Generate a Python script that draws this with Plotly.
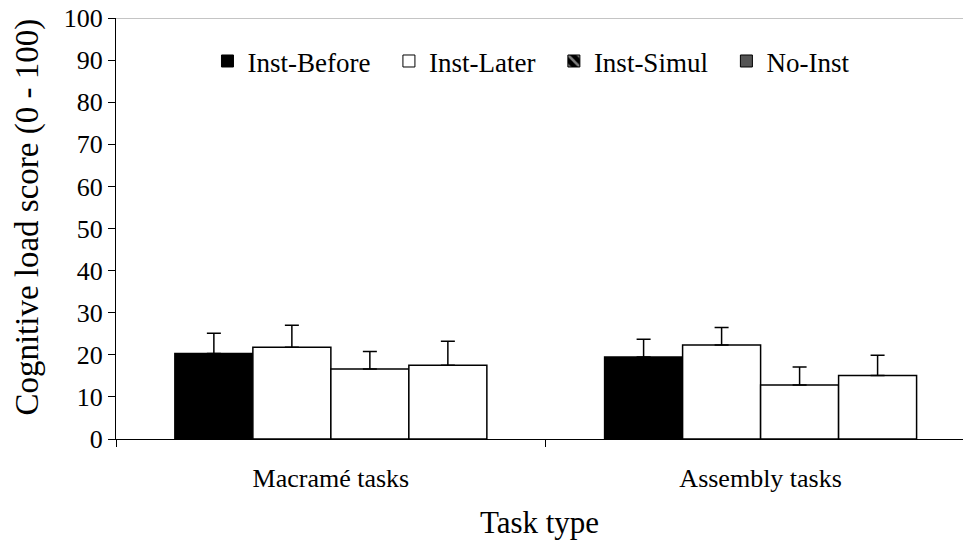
import plotly.graph_objects as go

# Task categories and group labels
tasks = ["Macramé tasks", "Assembly tasks"]
groups = ["Inst-Before", "Inst-Later", "Inst-Simul", "No-Inst"]

# Mean cognitive load scores and standard deviations per group
inst_before = [20.3, 19.5]
inst_before_sd = [4.8, 4.2]
inst_later = [21.8, 22.3]
inst_later_sd = [5.2, 4.2]
inst_simul = [16.6, 12.8]
inst_simul_sd = [4.2, 4.3]
no_inst = [17.5, 15.1]
no_inst_sd = [5.7, 4.8]

means = [inst_before, inst_later, inst_simul, no_inst]
sds = [inst_before_sd, inst_later_sd, inst_simul_sd, no_inst_sd]
bar_fill = ["black", "white", "white", "white"]

FONT = "Liberation Serif"

fig = go.Figure()

for name, m, s, c in zip(groups, means, sds, bar_fill):
    fig.add_trace(go.Bar(
        x=tasks, y=m, name=name, showlegend=False,
        marker=dict(color=c, line=dict(color="black", width=1.5)),
        error_y=dict(type="data", array=s, arrayminus=[0] * len(s),
                     symmetric=False, color="black", thickness=1.5, width=7),
    ))

# Legend keys (drawn on a hidden axis pair so they don't affect bar grouping)
legend_style = [
    dict(color="black", line=dict(color="black", width=1)),
    dict(color="white", line=dict(color="black", width=1)),
    dict(color="black", line=dict(color="black", width=1),
         pattern=dict(shape="\\", fgcolor="white", bgcolor="black", size=9, solidity=0.35)),
    dict(color="#555555", line=dict(color="black", width=1)),
]
legend_pad = ["\u00a0\u00a0", "\u00a0\u00a0", "\u00a0\u00a0", ""]
for name, mk, pad in zip(groups, legend_style, legend_pad):
    fig.add_trace(go.Bar(x=[None], y=[None], name=name + pad, marker=mk,
                         xaxis="x2", yaxis="y2", showlegend=True))

fig.add_shape(type="line", xref="paper", yref="y", x0=0, x1=1, y0=100, y1=100,
              line=dict(color="#c4c4c4", width=2), layer="below")

# Y-axis title placed as a rotated annotation
fig.add_annotation(text="Cognitive load score (0 - 100)", textangle=-90,
                   xref="paper", yref="paper", x=-0.104, y=0.528,
                   xanchor="center", yanchor="middle", showarrow=False,
                   font=dict(size=33, family=FONT, color="black"))

fig.update_layout(
    width=963, height=548,
    margin=dict(l=116, r=0, t=18, b=109),
    paper_bgcolor="white", plot_bgcolor="white",
    font=dict(family=FONT, color="black", size=26),
    barmode="group", bargap=0.274, bargroupgap=0,
    xaxis=dict(type="category", range=[-0.5, 1.471], tickson="boundaries",
               ticks="outside", ticklen=7, tickcolor="black", tickwidth=1,
               showline=True, linecolor="black", linewidth=1, showgrid=False,
               tickfont=dict(size=26, family=FONT), ticklabelstandoff=16,
               title=dict(text="Task type", font=dict(size=31, family=FONT), standoff=19)),
    yaxis=dict(range=[0, 100], dtick=10, ticks="outside", ticklen=7,
               tickcolor="black", showline=True, linecolor="black", linewidth=1,
               showgrid=False, zeroline=False, tickfont=dict(size=26, family=FONT)),
    xaxis2=dict(visible=False, overlaying="x", range=[0, 1]),
    yaxis2=dict(visible=False, overlaying="y", range=[0, 1]),
    legend=dict(orientation="h", x=0.108, y=0.955, xanchor="left", yanchor="top",
                font=dict(size=27, family=FONT), bgcolor="rgba(0,0,0,0)",
                itemwidth=30, tracegroupgap=0),
)

fig.write_html("out.html")
